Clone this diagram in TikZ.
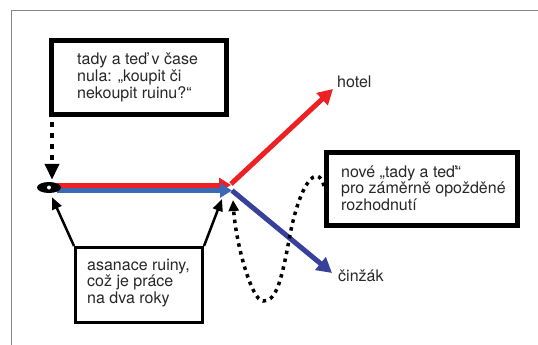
\documentclass[tikz,border=0pt]{standalone}
\usepackage{fontspec}
\setmainfont{TeX Gyre Heros}
\usetikzlibrary{arrows.meta,shapes.geometric}
\definecolor{rd}{RGB}{237,32,36}
\definecolor{bl}{RGB}{60,105,180}
\definecolor{bld}{RGB}{55,65,155}
\definecolor{frm}{RGB}{135,135,135}
\definecolor{tx}{RGB}{40,40,40}
\begin{document}
\begin{tikzpicture}[x=1pt,y=-1pt,
  txt/.style={inner sep=0pt, font=\fontsize{16}{16.6}\selectfont, text=tx, anchor=base west},
  bigbox/.style={draw=black, line width=5pt, fill=white, inner sep=0pt},
  smallbox/.style={draw=black, line width=3pt, fill=white, inner sep=0pt},
  redline/.style={draw=rd, line width=5pt},
  blueline/.style={draw=bl, line width=5pt},
  bluedline/.style={draw=bld, line width=5pt},
  solidarr/.style={draw=black, line width=2.5pt, -{Triangle[length=12pt,width=10pt]}},
  dotarr/.style={draw=black, line width=3.5pt, dash pattern=on 3.5pt off 4.5pt, -{Triangle[length=11pt,width=10pt]}},
  vdotarr/.style={draw=black, line width=4.5pt, dash pattern=on 4.5pt off 6.5pt, -{Triangle[length=16pt,width=14pt]}}
]
\useasboundingbox (0,0) rectangle (538,345);
\fill[white] (0,0) rectangle (538,345);
% frame
\draw[frm, line width=1pt] (11,345) -- (11,11) -- (538,11);

% boxes
\node[bigbox, minimum width=175pt, minimum height=74pt] (q) at (139,77.5) {};
\node[txt] (qt) at (77,65) {\begin{tabular}[t]{@{}l@{}}tady a teď v čase\\nula: „koupit či\\nekoupit ruinu?“\end{tabular}};

\node[bigbox, minimum width=191pt, minimum height=73pt] (rb) at (422,189) {};
\node[txt] (rbt) at (341,177) {\begin{tabular}[t]{@{}l@{}}nové „tady a teď“\\pro záměrně opožděné\\rozhodnutí\end{tabular}};

\node[smallbox, minimum width=127pt, minimum height=75pt] (bb) at (139,285) {};
\node[txt] (bbt) at (87,270) {\begin{tabular}[t]{@{}l@{}}asanace ruiny,\\což je práce\\na dva roky\end{tabular}};

% labels
\node[txt] (hotel) at (337,88) {hotel};
\node[txt] (cinzak) at (338,281) {činžák};

% main lines
\coordinate (rs) at (57,185);
\coordinate (rj) at (231,185);
\coordinate (bs) at (57,190.5);
\coordinate (bj) at (232,190.5);
\draw[redline, -{Triangle[length=12pt,width=14pt]}] (rs) -- (rj);
\draw[redline, -{Triangle[length=15pt,width=16pt]}] ([yshift=1pt]rj) -- ([shift={(-4,1)}]hotel.base west);
\draw[blueline, -{Triangle[length=12pt,width=14pt]}] (bs) -- (bj);
\draw[bluedline, -{Triangle[length=15pt,width=16pt]}] (bj) -- ([shift={(-6,-8)}]cinzak.base west);

% start point
\node[ellipse, fill=black, minimum width=24pt, minimum height=11pt, inner sep=0pt] (e) at (49,187.5) {};
\node[circle, fill=white, minimum size=4pt, inner sep=0pt] (ed) at (e.center) {};

% arrows
\draw[vdotarr] ([shift={(3,5)}]q.south west) -- ([shift={(3,-2)}]e.north);
\draw[solidarr] (bb.north west) -- ([shift={(3,4)}]e.south);
\draw[solidarr] (bb.north east) -- ([shift={(-10,8.5)}]bj);
\draw[dotarr] ([yshift=3pt]rb.west) .. controls (318,163) and (300,180) .. (289,240)
  .. controls (280,290) and (274,301) .. (263,301)
  .. controls (252,301) and (236,245) .. ([shift={(1,9.5)}]bj);
\end{tikzpicture}
\end{document}
